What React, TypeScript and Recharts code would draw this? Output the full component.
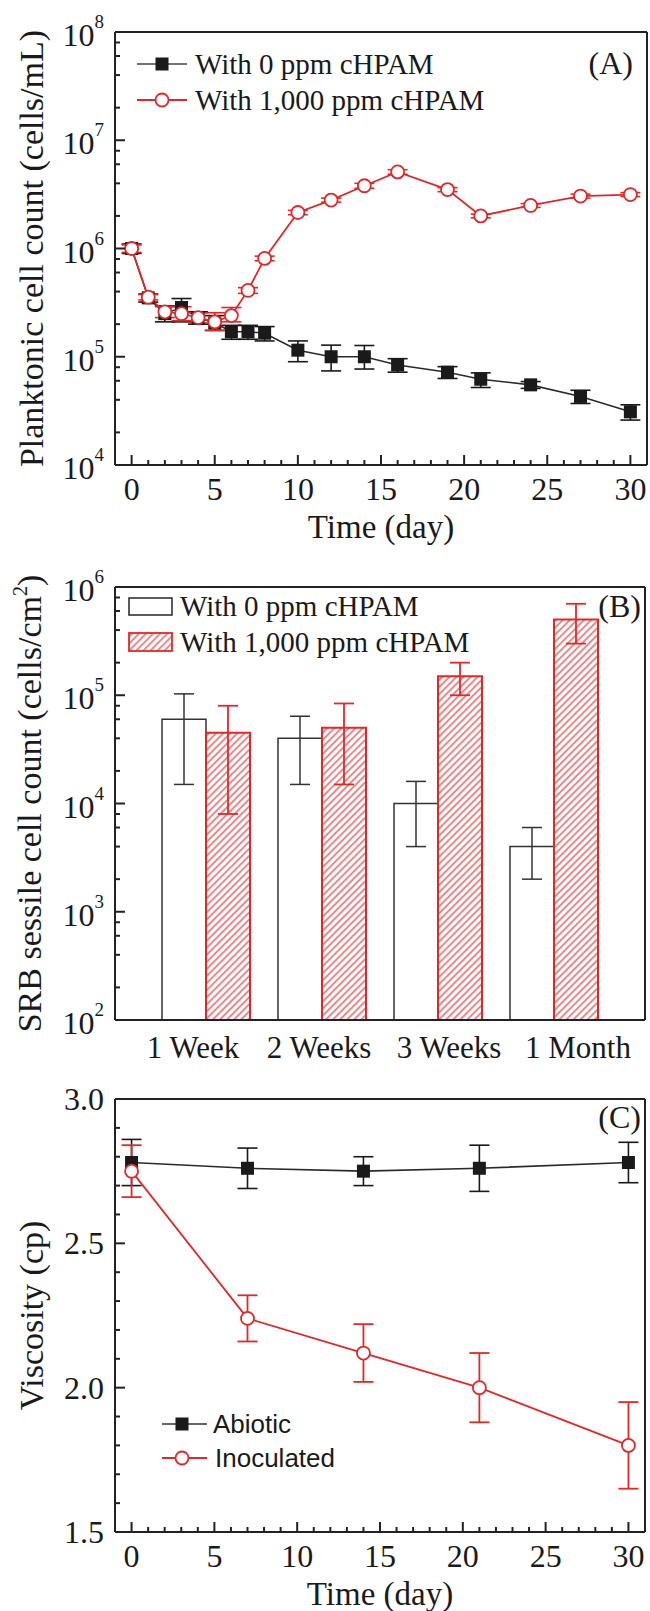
import React from "react";
import { LineChart, Line, BarChart, Bar, XAxis, YAxis, ErrorBar } from "recharts";

const SERIF = "'Liberation Serif', 'Times New Roman', serif";
const SANS = "'Liberation Sans', Arial, sans-serif";
const RED = "#e0282a";
const INK = "#1a1a1a";

// ---- (A) planktonic cell count, cells/mL ----
const daysA = [0, 1, 2, 3, 4, 5, 6, 7, 8, 10, 12, 14, 16, 19, 21, 24, 27, 30];
const plank0 = [1.0e6, 3.5e5, 2.5e5, 2.85e5, 2.3e5, 2.05e5, 1.7e5, 1.7e5, 1.65e5, 1.15e5, 1.0e5, 1.0e5, 8.4e4, 7.2e4, 6.2e4, 5.5e4, 4.3e4, 3.1e4];
const plank0Lo = [0.9e6, 3.2e5, 2.1e5, 2.1e5, 2.0e5, 1.75e5, 1.45e5, 1.45e5, 1.4e5, 9.0e4, 7.4e4, 7.7e4, 7.2e4, 6.3e4, 5.2e4, 5.1e4, 3.7e4, 2.6e4];
const plank0Hi = [1.1e6, 3.8e5, 2.95e5, 3.45e5, 2.6e5, 2.4e5, 1.95e5, 1.95e5, 1.9e5, 1.4e5, 1.28e5, 1.27e5, 9.6e4, 8.1e4, 7.1e4, 5.9e4, 4.9e4, 3.6e4];
const plank1000 = [1.0e6, 3.55e5, 2.6e5, 2.5e5, 2.3e5, 2.1e5, 2.4e5, 4.1e5, 8.1e5, 2.15e6, 2.8e6, 3.8e6, 5.1e6, 3.5e6, 2.0e6, 2.5e6, 3.05e6, 3.15e6];
const plank1000Lo = [0.92e6, 3.35e5, 2.3e5, 2.15e5, 2.05e5, 1.75e5, 2.1e5, 3.85e5, 7.7e5, 2.05e6, 2.68e6, 3.6e6, 4.85e6, 3.35e6, 1.92e6, 2.4e6, 2.92e6, 3.02e6];
const plank1000Hi = [1.08e6, 3.75e5, 2.9e5, 2.9e5, 2.55e5, 2.55e5, 2.85e5, 4.35e5, 8.5e5, 2.25e6, 2.92e6, 4.0e6, 5.35e6, 3.65e6, 2.08e6, 2.6e6, 3.18e6, 3.28e6];
const namesA = ["With 0 ppm cHPAM", "With 1,000 ppm cHPAM"];

// ---- (B) SRB sessile cell count, cells/cm2 ----
const weeks = ["1 Week", "2 Weeks", "3 Weeks", "1 Month"];
const sessile0 = [6.0e4, 4.0e4, 1.0e4, 4.0e3];
const sessile0Lo = [1.5e4, 1.5e4, 4.0e3, 2.0e3];
const sessile0Hi = [1.03e5, 6.4e4, 1.6e4, 6.0e3];
const sessile1000 = [4.5e4, 5.0e4, 1.5e5, 5.0e5];
const sessile1000Lo = [8.0e3, 1.5e4, 1.0e5, 3.0e5];
const sessile1000Hi = [8.0e4, 8.4e4, 2.0e5, 7.0e5];
const namesB = ["With 0 ppm cHPAM", "With 1,000 ppm cHPAM"];

// ---- (C) viscosity, cp ----
const daysC = [0, 7, 14, 21, 30];
const abiotic = [2.78, 2.76, 2.75, 2.76, 2.78];
const abioticLo = [2.70, 2.69, 2.70, 2.68, 2.71];
const abioticHi = [2.86, 2.83, 2.80, 2.84, 2.85];
const inoculated = [2.75, 2.24, 2.12, 2.0, 1.8];
const inoculatedLo = [2.66, 2.16, 2.02, 1.88, 1.65];
const inoculatedHi = [2.84, 2.32, 2.22, 2.12, 1.95];
const namesC = ["Abiotic", "Inoculated"];

// ---- ticks ----
const dayTicks = [0, 1, 2, 3, 4, 5, 6, 7, 8, 9, 10, 11, 12, 13, 14, 15, 16, 17, 18, 19, 20, 21, 22, 23, 24, 25, 26, 27, 28, 29, 30];
const logTicksA = [1e4, 2e4, 4e4, 6e4, 8e4, 1e5, 2e5, 4e5, 6e5, 8e5, 1e6, 2e6, 4e6, 6e6, 8e6, 1e7, 2e7, 4e7, 6e7, 8e7, 1e8];
const logTicksB = [1e2, 2e2, 4e2, 6e2, 8e2, 1e3, 2e3, 4e3, 6e3, 8e3, 1e4, 2e4, 4e4, 6e4, 8e4, 1e5, 2e5, 4e5, 6e5, 8e5, 1e6];
const viscTicks = [1.5, 1.6, 1.7, 1.8, 1.9, 2.0, 2.1, 2.2, 2.3, 2.4, 2.5, 2.6, 2.7, 2.8, 2.9, 3.0];

const weekLabelShift = [-13, -3, 11, 24];

const tableA = daysA.map((day, i) => ({
  day,
  ctrl: plank0[i],
  ctrlErr: [plank0[i] - plank0Lo[i], plank0Hi[i] - plank0[i]],
  poly: plank1000[i],
  polyErr: [plank1000[i] - plank1000Lo[i], plank1000Hi[i] - plank1000[i]],
}));

const tableB = weeks.map((week, i) => ({
  week,
  ctrl: sessile0[i],
  ctrlErr: [sessile0[i] - sessile0Lo[i], sessile0Hi[i] - sessile0[i]],
  poly: sessile1000[i],
  polyErr: [sessile1000[i] - sessile1000Lo[i], sessile1000Hi[i] - sessile1000[i]],
}));

const tableC = daysC.map((day, i) => ({
  day,
  abiotic: abiotic[i],
  abioticErr: [abiotic[i] - abioticLo[i], abioticHi[i] - abiotic[i]],
  inoc: inoculated[i],
  inocErr: [inoculated[i] - inoculatedLo[i], inoculatedHi[i] - inoculated[i]],
}));

const frame = { stroke: "#222", strokeWidth: 2 };

function DayTick(props: any) {
  const { x, y, payload } = props;
  const v = payload.value;
  const major = v % 5 === 0;
  return (
    <g>
      <line x1={x} x2={x} y1={y} y2={y - (major ? 10 : 5)} stroke="#222" strokeWidth={2} />
      {major && (
        <text x={x} y={y + 35} textAnchor="middle" fontFamily={SERIF} fontSize={32} fill={INK}>
          {v}
        </text>
      )}
    </g>
  );
}

function LogTick(props: any) {
  const { x, y, payload } = props;
  const exp = Math.log10(payload.value);
  const major = Math.abs(exp - Math.round(exp)) < 1e-6;
  return (
    <g>
      <line x1={x} x2={x + (major ? 10 : 5)} y1={y} y2={y} stroke="#222" strokeWidth={2} />
      {major && (
        <text x={x - 11} y={y + 14} textAnchor="end" fontFamily={SERIF} fontSize={32} fill={INK}>
          10
          <tspan dy={-18} fontSize={19}>
            {Math.round(exp)}
          </tspan>
        </text>
      )}
    </g>
  );
}

function ViscTick(props: any) {
  const { x, y, payload } = props;
  const v = payload.value;
  const major = Math.abs(v * 2 - Math.round(v * 2)) < 1e-6;
  return (
    <g>
      <line x1={x} x2={x + (major ? 10 : 5)} y1={y} y2={y} stroke="#222" strokeWidth={2} />
      {major && (
        <text x={x - 11} y={y + 11} textAnchor="end" fontFamily={SERIF} fontSize={32} fill={INK}>
          {v.toFixed(1)}
        </text>
      )}
    </g>
  );
}

function WeekTick(props: any) {
  const { x, y, payload, index } = props;
  return (
    <text x={x + (weekLabelShift[index] || 0)} y={y + 38} textAnchor="middle" fontFamily={SERIF} fontSize={31} fill={INK}>
      {payload.value}
    </text>
  );
}

function XTitle(props: any) {
  const vb = props.viewBox || { x: 115, y: 465, width: 532 };
  return (
    <text x={vb.x + vb.width / 2} y={vb.y + 73} textAnchor="middle" fontFamily={SERIF} fontSize={33} fill={INK}>
      {props.text}
    </text>
  );
}

function YTitle(props: any) {
  const vb = props.viewBox || { x: 0, y: 32, height: 433 };
  const x = vb.x + props.dx;
  const cy = vb.y + vb.height / 2;
  return (
    <text x={x} y={cy} transform={`rotate(-90 ${x} ${cy})`} textAnchor="middle" fontFamily={SERIF} fontSize={34} fill={INK}>
      {props.text}
      {props.sup && (
        <tspan dy={-14} fontSize={20}>
          {props.sup}
        </tspan>
      )}
      {props.sup && <tspan dy={14}>{props.tail}</tspan>}
    </text>
  );
}

const squareDot = (p: any) => (
  <rect key={`sq-${p.index}`} x={p.cx - 6.5} y={p.cy - 6.5} width={13} height={13} fill={INK} />
);
const circleDot = (p: any) => (
  <circle key={`ci-${p.index}`} cx={p.cx} cy={p.cy} r={6.5} fill="#fff" stroke={RED} strokeWidth={1.8} />
);

function PanelA() {
  return (
    <div style={{ position: "relative", width: 650, height: 545 }}>
      <LineChart width={650} height={545} data={tableA} margin={{ top: 31, right: 2, bottom: 0, left: 0 }}>
        <XAxis
          dataKey="day"
          type="number"
          domain={[-1, 31]}
          allowDataOverflow
          ticks={dayTicks}
          interval={0}
          tick={<DayTick />}
          tickLine={false}
          tickSize={0}
          tickMargin={0}
          axisLine={frame}
          height={80}
          label={<XTitle text="Time (day)" />}
        />
        <XAxis xAxisId="top" orientation="top" dataKey="day" type="number" domain={[-1, 31]} ticks={[0]} height={1} tick={false} tickLine={false} axisLine={frame} />
        <YAxis
          type="number"
          scale="log"
          domain={[1e4, 1e8]}
          allowDataOverflow
          ticks={logTicksA}
          interval={0}
          tick={<LogTick />}
          tickLine={false}
          tickSize={0}
          tickMargin={0}
          axisLine={frame}
          width={115}
          label={<YTitle text="Planktonic cell count (cells/mL)" dx={43} />}
        />
        <YAxis yAxisId="r" orientation="right" type="number" scale="log" domain={[1e4, 1e8]} allowDataOverflow ticks={[1e4]} width={1} tick={false} tickLine={false} axisLine={frame} />
        <Line dataKey="ctrl" stroke="#2a2a2a" strokeWidth={1.6} dot={squareDot} activeDot={false} isAnimationActive={false}>
          <ErrorBar dataKey="ctrlErr" width={10} stroke={INK} strokeWidth={1.6} direction="y" />
        </Line>
        <Line dataKey="poly" stroke={RED} strokeWidth={1.8} dot={circleDot} activeDot={false} isAnimationActive={false}>
          <ErrorBar dataKey="polyErr" width={10} stroke={RED} strokeWidth={1.6} direction="y" />
        </Line>
      </LineChart>
      <svg width={650} height={545} style={{ position: "absolute", left: 0, top: 0, pointerEvents: "none" }}>
        <line x1={137} x2={187} y1={64} y2={64} stroke="#444" strokeWidth={1.6} />
        <rect x={155.5} y={57.5} width={13} height={13} fill={INK} />
        <text x={195} y={74} fontFamily={SERIF} fontSize={29} fill={INK}>{namesA[0]}</text>
        <line x1={137} x2={187} y1={100} y2={100} stroke={RED} strokeWidth={1.8} />
        <circle cx={162} cy={100} r={6.5} fill="#fff" stroke={RED} strokeWidth={1.8} />
        <text x={195} y={110} fontFamily={SERIF} fontSize={29} fill={INK}>{namesA[1]}</text>
        <text x={633} y={74} textAnchor="end" fontFamily={SERIF} fontSize={32} fill={INK}>(A)</text>
      </svg>
    </div>
  );
}

function PanelB() {
  return (
    <div style={{ position: "relative", width: 650, height: 535 }}>
      <BarChart width={650} height={535} data={tableB} margin={{ top: 41, right: 4, bottom: 0, left: 0 }} barGap={0} barSize={44}>
        <defs>
          <pattern id="hatchRed" width="5" height="5" patternUnits="userSpaceOnUse" patternTransform="rotate(45)">
            <rect width="5" height="5" fill="#fff" />
            <line x1="1" y1="0" x2="1" y2="5" stroke={RED} strokeWidth="1.3" strokeOpacity="0.85" />
          </pattern>
        </defs>
        <XAxis
          dataKey="week"
          padding={{ left: 33, right: 33 }}
          interval={0}
          tick={<WeekTick />}
          tickLine={false}
          tickSize={0}
          tickMargin={0}
          axisLine={frame}
          height={60}
        />
        <XAxis xAxisId="top" orientation="top" dataKey="week" height={1} tick={false} tickLine={false} axisLine={frame} />
        <YAxis
          type="number"
          scale="log"
          domain={[1e2, 1e6]}
          allowDataOverflow
          ticks={logTicksB}
          interval={0}
          tick={<LogTick />}
          tickLine={false}
          tickSize={0}
          tickMargin={0}
          axisLine={frame}
          width={115}
          label={<YTitle text="SRB sessile cell count (cells/cm" sup="2" tail=")" dx={41} />}
        />
        <YAxis yAxisId="r" orientation="right" type="number" scale="log" domain={[1e2, 1e6]} allowDataOverflow ticks={[1e2]} width={1} tick={false} tickLine={false} axisLine={frame} />
        <Bar dataKey="ctrl" fill="#fff" stroke="#333" strokeWidth={1.5} isAnimationActive={false}>
          <ErrorBar dataKey="ctrlErr" width={10} stroke="#333" strokeWidth={1.5} direction="y" />
        </Bar>
        <Bar dataKey="poly" fill="url(#hatchRed)" stroke={RED} strokeWidth={2} isAnimationActive={false}>
          <ErrorBar dataKey="polyErr" width={10} stroke={RED} strokeWidth={1.8} direction="y" />
        </Bar>
      </BarChart>
      <svg width={650} height={535} style={{ position: "absolute", left: 0, top: 0, pointerEvents: "none" }}>
        <defs>
          <pattern id="hatchRedLegend" width="5" height="5" patternUnits="userSpaceOnUse" patternTransform="rotate(45)">
            <rect width="5" height="5" fill="#fff" />
            <line x1="1" y1="0" x2="1" y2="5" stroke={RED} strokeWidth="1.3" strokeOpacity="0.85" />
          </pattern>
        </defs>
        <rect x={129} y={53} width={43} height={17} fill="#fff" stroke="#333" strokeWidth={1.6} />
        <text x={180} y={71} fontFamily={SERIF} fontSize={29} fill={INK}>{namesB[0]}</text>
        <rect x={129} y={88} width={43} height={18} fill="url(#hatchRedLegend)" stroke={RED} strokeWidth={1.8} />
        <text x={180} y={107} fontFamily={SERIF} fontSize={29} fill={INK}>{namesB[1]}</text>
        <text x={641} y={72} textAnchor="end" fontFamily={SERIF} fontSize={32} fill={INK}>(B)</text>
      </svg>
    </div>
  );
}

function PanelC() {
  return (
    <div style={{ position: "relative", width: 650, height: 531 }}>
      <LineChart width={650} height={531} data={tableC} margin={{ top: 18, right: 4, bottom: 0, left: 0 }}>
        <XAxis
          dataKey="day"
          type="number"
          domain={[-1, 31]}
          allowDataOverflow
          ticks={dayTicks}
          interval={0}
          tick={<DayTick />}
          tickLine={false}
          tickSize={0}
          tickMargin={0}
          axisLine={frame}
          height={79}
          label={<XTitle text="Time (day)" />}
        />
        <XAxis xAxisId="top" orientation="top" dataKey="day" type="number" domain={[-1, 31]} ticks={[0]} height={1} tick={false} tickLine={false} axisLine={frame} />
        <YAxis
          type="number"
          domain={[1.5, 3.0]}
          allowDataOverflow
          ticks={viscTicks}
          interval={0}
          tick={<ViscTick />}
          tickLine={false}
          tickSize={0}
          tickMargin={0}
          axisLine={frame}
          width={115}
          label={<YTitle text="Viscosity (cp)" dx={43} />}
        />
        <YAxis yAxisId="r" orientation="right" type="number" domain={[1.5, 3.0]} allowDataOverflow ticks={[1.5]} width={1} tick={false} tickLine={false} axisLine={frame} />
        <Line dataKey="abiotic" stroke="#2a2a2a" strokeWidth={1.6} dot={squareDot} activeDot={false} isAnimationActive={false}>
          <ErrorBar dataKey="abioticErr" width={10} stroke={INK} strokeWidth={1.6} direction="y" />
        </Line>
        <Line dataKey="inoc" stroke={RED} strokeWidth={1.8} dot={circleDot} activeDot={false} isAnimationActive={false}>
          <ErrorBar dataKey="inocErr" width={10} stroke={RED} strokeWidth={1.8} direction="y" />
        </Line>
      </LineChart>
      <svg width={650} height={531} style={{ position: "absolute", left: 0, top: 0, pointerEvents: "none" }}>
        <line x1={162} x2={207} y1={344} y2={344} stroke="#333" strokeWidth={1.6} />
        <rect x={175.5} y={337.5} width={13} height={13} fill={INK} />
        <text x={213} y={353} fontFamily={SANS} fontSize={26} fill={INK}>{namesC[0]}</text>
        <line x1={162} x2={207} y1={378} y2={378} stroke={RED} strokeWidth={1.8} />
        <circle cx={182} cy={378} r={6.5} fill="#fff" stroke={RED} strokeWidth={1.8} />
        <text x={215} y={387} fontFamily={SANS} fontSize={26} fill={INK}>{namesC[1]}</text>
        <text x={641} y={48} textAnchor="end" fontFamily={SERIF} fontSize={32} fill={INK}>(C)</text>
      </svg>
    </div>
  );
}

export default function App() {
  return (
    <div style={{ position: "absolute", left: 0, top: 0, width: 650, height: 1611, background: "#fff" }}>
      <PanelA />
      <PanelB />
      <PanelC />
    </div>
  );
}
